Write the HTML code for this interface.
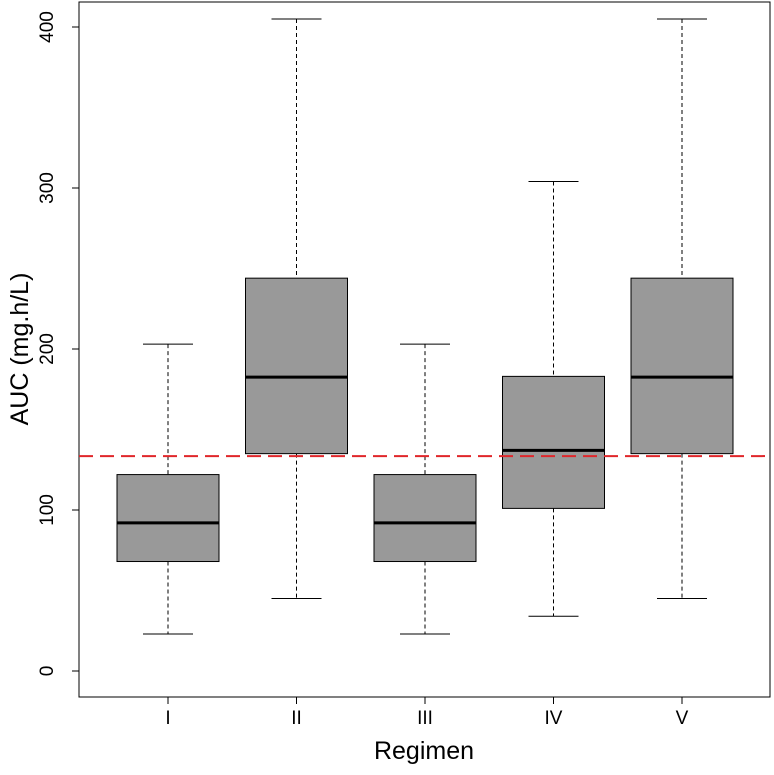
<!DOCTYPE html>
<html><head><meta charset="utf-8"><style>
body{margin:0;background:#fff}
svg text{font-family:"Liberation Sans",Arial,sans-serif;fill:#000}
</style></head><body>
<svg id="c" width="774" height="770" xmlns="http://www.w3.org/2000/svg"></svg>
<script>
const categories=["I","II","III","IV","V"];
const whiskerLow=[23,45,23,34,45];
const q1=[68,135,68,101,135];
const median=[92,182.5,92,137,182.5];
const q3=[122,244,122,183,244];
const whiskerHigh=[203,405,203,304,405];
const yTicks=[0,100,200,300,400];
const refLine=[133.5];
const NS="http://www.w3.org/2000/svg";
const svg=document.getElementById('c');
const L=79,R=770,T=2,B=697;
const y=v=>671-v*1.61;
const x=i=>168+i*128.5;
function mk(t,a,p){const e=document.createElementNS(NS,t);for(const k in a)e.setAttribute(k,a[k]);(p||svg).appendChild(e);return e;}
let e=mk('rect',{x:L,y:T,width:R-L,height:B-T,fill:'none',stroke:'#000','stroke-width':1});


categories.forEach((c,i)=>{
  const g=mk('g',{});
  
  
  const cx=x(i),hw=51,cw=25;
  mk('line',{x1:cx,x2:cx,y1:y(whiskerHigh[i]),y2:y(q3[i]),stroke:'#000','stroke-dasharray':'4,3'},g);
  mk('line',{x1:cx,x2:cx,y1:y(q1[i]),y2:y(whiskerLow[i]),stroke:'#000','stroke-dasharray':'4,3'},g);
  mk('line',{x1:cx-cw,x2:cx+cw,y1:y(whiskerHigh[i]),y2:y(whiskerHigh[i]),stroke:'#000'},g);
  mk('line',{x1:cx-cw,x2:cx+cw,y1:y(whiskerLow[i]),y2:y(whiskerLow[i]),stroke:'#000'},g);
  mk('rect',{x:cx-hw,y:y(q3[i]),width:2*hw,height:y(q1[i])-y(q3[i]),fill:'#999',stroke:'#000'},g);
  mk('line',{x1:cx-hw,x2:cx+hw,y1:y(median[i]),y2:y(median[i]),stroke:'#000','stroke-width':3},g);
  mk('line',{x1:cx,x2:cx,y1:B,y2:B+7,stroke:'#000'});
  const t=mk('text',{x:cx,y:724,'text-anchor':'middle','font-size':19});t.textContent=c;
  
  
});
mk('line',{x1:L,x2:L,y1:y(400),y2:y(0),stroke:'#000'});
yTicks.forEach(v=>{
  mk('line',{x1:L-7,x2:L,y1:y(v),y2:y(v),stroke:'#000'});
  const t=mk('text',{x:0,y:0,'text-anchor':'middle','font-size':19,transform:`translate(53,${y(v)}) rotate(-90)`});t.textContent=v;
  
  
});
e=mk('line',{x1:L,x2:R,y1:y(refLine[0]),y2:y(refLine[0]),stroke:'#e0262a','stroke-width':2,'stroke-dasharray':'14,7'});


e=mk('text',{x:424,y:759,'text-anchor':'middle','font-size':25});e.textContent='Regimen';


e=mk('text',{x:0,y:0,'text-anchor':'middle','font-size':25,transform:'translate(28,349) rotate(-90)'});e.textContent='AUC (mg.h/L)';


</script>
</body></html>
